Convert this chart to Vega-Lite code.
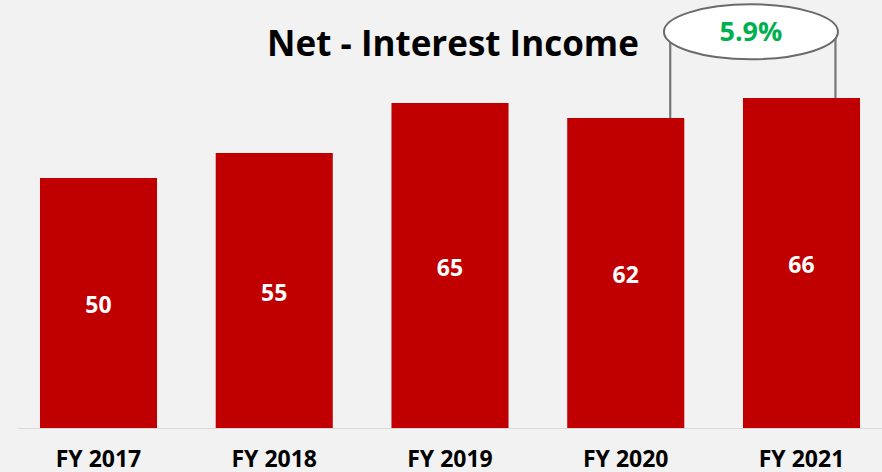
{
  "$schema": "https://vega.github.io/schema/vega-lite/v6.json",
  "autosize": {"type": "none"},
  "width": 864,
  "height": 400,
  "padding": {"left": 18, "top": 28, "right": 0, "bottom": 44},
  "background": "#F2F2F2",
  "config": {"view": {"stroke": null}},
  "datasets": {
    "income": [
      {"year": "FY 2017", "value": 50},
      {"year": "FY 2018", "value": 55},
      {"year": "FY 2019", "value": 65},
      {"year": "FY 2020", "value": 62},
      {"year": "FY 2021", "value": 66}
    ],
    "growth": [
      {"from": "FY 2020", "to": "FY 2021", "label": "5.9%"}
    ],
    "heading": [
      {"title": "Net - Interest Income"}
    ]
  },
  "data": {"name": "income"},
  "encoding": {
    "x": {
      "field": "year",
      "type": "nominal",
      "sort": null,
      "scale": {"paddingInner": 0.334, "paddingOuter": 0.125},
      "axis": {
        "title": null,
        "labelAngle": 0,
        "ticks": false,
        "tickSize": 0,
        "labelFont": "Open Sans",
        "labelFontSize": 23,
        "labelFontWeight": "bold",
        "labelColor": "#000000",
        "labelBaseline": "alphabetic",
        "labelPadding": 38,
        "domainColor": "#D9D9D9",
        "domainWidth": 1.2,
        "grid": false
      }
    }
  },
  "layer": [
    {
      "mark": {"type": "bar", "color": "#C00000"},
      "encoding": {
        "y": {"field": "value", "type": "quantitative", "scale": {"domain": [0, 80], "nice": false}, "axis": null}
      }
    },
    {
      "data": {"name": "heading"},
      "mark": {
        "type": "text",
        "font": "Open Sans",
        "fontSize": 35,
        "fontWeight": "bold",
        "color": "#000000",
        "baseline": "alphabetic",
        "align": "center",
        "dx": 3
      },
      "encoding": {
        "x": {"datum": "FY 2019"},
        "y": {"datum": 74.4, "type": "quantitative", "scale": {"domain": [0, 80], "nice": false}, "axis": null},
        "text": {"field": "title"}
      }
    },
    {
      "transform": [{"filter": "datum.year === 'FY 2020'"}],
      "mark": {"type": "rule", "color": "#767676", "strokeWidth": 2.2},
      "encoding": {
        "x": {"field": "year", "type": "nominal", "sort": null, "bandPosition": 0.88},
        "y": {"field": "value", "type": "quantitative", "scale": {"domain": [0, 80], "nice": false}, "axis": null},
        "y2": {"datum": 79.2}
      }
    },
    {
      "transform": [{"filter": "datum.year === 'FY 2021'"}],
      "mark": {"type": "rule", "color": "#767676", "strokeWidth": 2.2},
      "encoding": {
        "x": {"field": "year", "type": "nominal", "sort": null, "bandPosition": 0.79},
        "y": {"field": "value", "type": "quantitative", "scale": {"domain": [0, 80], "nice": false}, "axis": null},
        "y2": {"datum": 79.2}
      }
    },
    {
      "data": {"name": "growth"},
      "mark": {
        "type": "point",
        "shape": "M -1 0 C -1 -0.1745 -0.5523 -0.316 0 -0.316 C 0.5523 -0.316 1 -0.1745 1 0 C 1 0.1745 0.5523 0.316 0 0.316 C -0.5523 0.316 -1 0.1745 -1 0 Z",
        "size": 30276,
        "filled": true,
        "fill": "#FFFFFF",
        "fillOpacity": 1,
        "stroke": "#6B6B6B",
        "strokeWidth": 2,
        "opacity": 1
      },
      "encoding": {
        "x": {"field": "to", "type": "nominal", "bandPosition": 0.068},
        "y": {"datum": 79.24, "type": "quantitative", "scale": {"domain": [0, 80], "nice": false}, "axis": null}
      }
    },
    {
      "data": {"name": "growth"},
      "mark": {
        "type": "text",
        "font": "Open Sans",
        "fontSize": 27,
        "fontWeight": "bold",
        "color": "#00B050",
        "baseline": "middle",
        "dy": 1
      },
      "encoding": {
        "x": {"field": "to", "type": "nominal", "bandPosition": 0.068},
        "y": {"datum": 79.24, "type": "quantitative", "scale": {"domain": [0, 80], "nice": false}, "axis": null},
        "text": {"field": "label"}
      }
    },
    {
      "mark": {
        "type": "text",
        "font": "Open Sans",
        "fontSize": 23,
        "fontWeight": "bold",
        "color": "#FFFFFF",
        "baseline": "alphabetic",
        "dy": 10
      },
      "encoding": {
        "y": {"field": "value", "type": "quantitative", "scale": {"domain": [0, 160], "nice": false}, "axis": null},
        "text": {"field": "value", "type": "quantitative"}
      }
    }
  ],
  "resolve": {"scale": {"y": "independent"}}
}
